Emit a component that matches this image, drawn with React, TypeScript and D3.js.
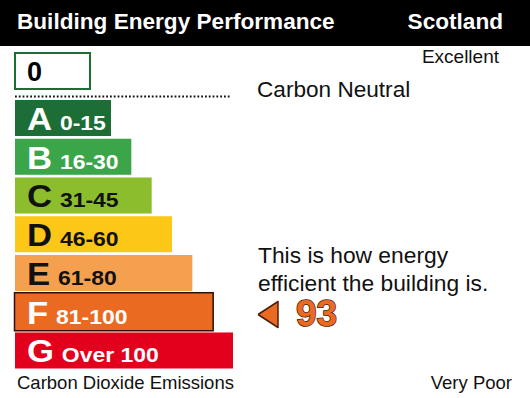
import React from 'react';
import * as d3 from 'd3';

// chart data
const bandLetters = ['A', 'B', 'C', 'D', 'E', 'F', 'G'];
const bandRanges = ['0-15', '16-30', '31-45', '46-60', '61-80', '81-100', 'Over 100'];
const currentBand = 'F';
const currentValue = 93;
const bestValue = 0;

const palette = ['#1c6d36', '#3ba54a', '#8cbd2c', '#fdc717', '#f4a04e', '#ea6a22', '#e3001c'];
const letterInk = ['#fff', '#fff', '#111', '#111', '#111', '#fff', '#fff'];

const W = 530;
const H = 398;
const FONT = 'Liberation Sans, Arial, Helvetica, sans-serif';

const App = () => {
    const y = d3.scaleBand<string>().domain(bandLetters).range([100, 368.5]).paddingInner(0.07);
    const right = d3.scaleLinear().domain([0, bandLetters.length - 1]).range([111, 233]);
    const fill = d3.scaleOrdinal<string, string>().domain(bandLetters).range(palette);
    const ink = d3.scaleOrdinal<string, string>().domain(bandLetters).range(letterInk);

    const left = 15;
    const bh = y.bandwidth();
    const cur = bandLetters.indexOf(currentBand);

    // little arrow pointing left, at the rating readout
    const arrowY = 314.5;
    const arrow = d3.line()([[258, arrowY], [278, arrowY - 13], [278, arrowY + 13], [258, arrowY]]);

    return (
        <svg width={W} height={H} style={{ position: 'absolute', left: 0, top: 0, background: '#fff' }} fontFamily={FONT}>
            {/* header */}
            <rect x={0} y={0} width={W} height={46} fill="#000" />
            <text x={17} y={29} fill="#fff" fontSize={22.6} fontWeight="bold">Building Energy Performance</text>
            <text x={503} y={29} fill="#fff" fontSize={22.6} fontWeight="bold" textAnchor="end">Scotland</text>

            <text x={499} y={62.5} fontSize={19} textAnchor="end" fill="#111">Excellent</text>

            {/* carbon neutral box */}
            <rect x={15} y={53} width={75} height={36} fill="#fff" stroke={palette[0]} strokeWidth={2} />
            <text x={27} y={81} fontSize={27} fontWeight="bold" fill="#000">{bestValue}</text>
            <line x1={15} x2={231} y1={96.5} y2={96.5} stroke="#111" strokeWidth={2} strokeDasharray="1.8 2" />
            <text x={257} y={97} fontSize={22.6} fill="#111">Carbon Neutral</text>

            {/* rating bands */}
            {bandLetters.map((b, i) => {
                const y0 = y(b) as number;
                const x1 = right(i);
                const selected = i === cur;
                return (
                    <g key={b}>
                        <rect
                            x={selected ? left - 0.5 : left}
                            y={selected ? y0 - 1 : y0}
                            width={selected ? x1 - left + 1 : x1 - left}
                            height={selected ? bh + 2 : bh}
                            fill={fill(b)}
                            stroke={selected ? '#2a1208' : 'none'}
                            strokeWidth={1.5}
                        />
                        <text transform={`translate(27,${y0 + 30}) scale(1.12,1)`} fill={ink(b)} fontWeight="bold">
                            <tspan fontSize={31}>{b}</tspan>
                            <tspan dx={7} fontSize={20.5}>{bandRanges[i]}</tspan>
                        </text>
                    </g>
                );
            })}

            <text x={17} y={389} fontSize={18.5} fill="#111">Carbon Dioxide Emissions</text>
            <text x={512} y={389} fontSize={18.5} fill="#111" textAnchor="end">Very Poor</text>

            {/* current rating */}
            <text x={258} y={263} fontSize={22.8} fill="#111">This is how energy</text>
            <text x={258} y={291} fontSize={22.8} fill="#111">efficient the building is.</text>
            <path d={arrow as string} fill={fill(currentBand)} stroke="#4a200c" strokeWidth={1.5} strokeLinejoin="round" />
            <text x={296} y={326} fontSize={37} fontWeight="bold" fill={fill(currentBand)} stroke="#4a200c" strokeWidth={1.5}
                style={{ paintOrder: 'stroke' }}>{currentValue}</text>
        </svg>
    );
};

export default App;
